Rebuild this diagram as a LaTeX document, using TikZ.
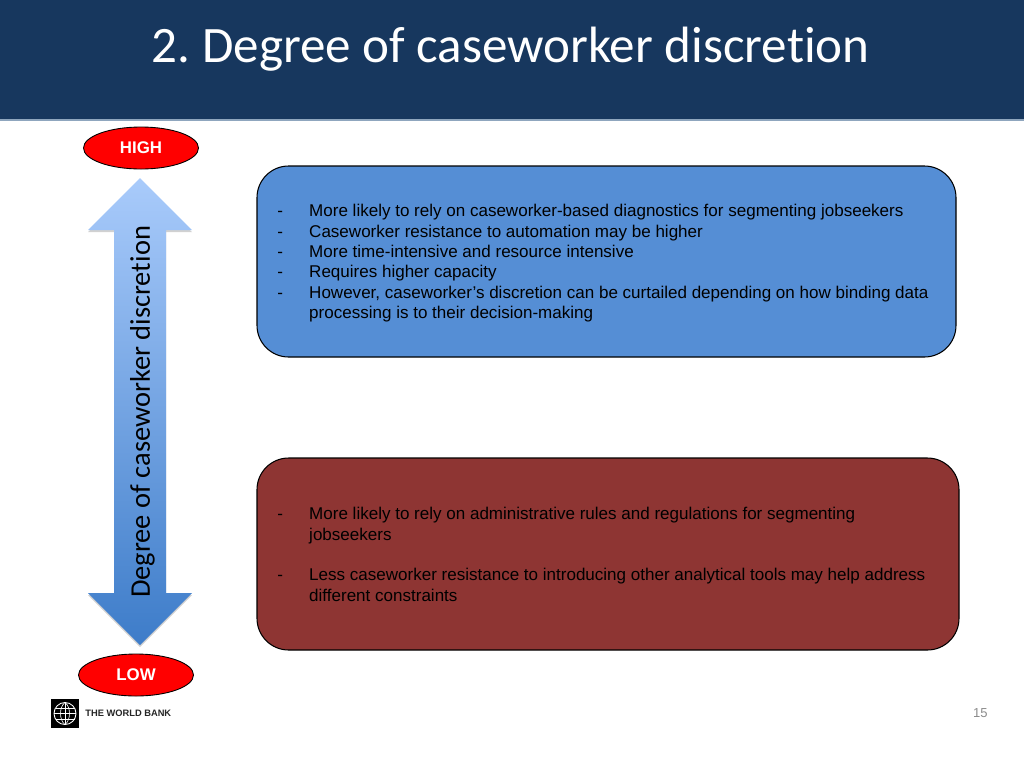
\documentclass[tikz,border=0pt]{standalone}
\usepackage{fontspec}
\setmainfont{Liberation Sans}
\newfontfamily\calfont[Ligatures=NoCommon,Contextuals=NoAlternate]{Carlito}
\definecolor{headbg}{HTML}{17375E}
\definecolor{headline}{HTML}{8FA6BE}
\definecolor{boxblue}{HTML}{558ED5}
\definecolor{boxred}{HTML}{8E3533}
\definecolor{arrowtop}{HTML}{A9CBFB}
\definecolor{arrowbot}{HTML}{3D7CC9}
\definecolor{pagegrey}{HTML}{8B8B8B}
\newcommand{\pxu}{cm*0.02}
\tikzset{
  pillnode/.style={ellipse,draw=black,line width=0.5pt,fill=red,inner sep=0pt,minimum width=115\pxu,minimum height=42\pxu,text=white,font=\fontsize{9.6}{12}\selectfont\bfseries},
  panelbox/.style={draw=black,line width=0.6pt,rounded corners=18pt},
  paneltext/.style={anchor=north west,align=left,inner sep=0pt,text=black,font=\fontsize{9.69}{11.62}\selectfont},
}
\newcommand{\dashitem}[1]{\makebox[18.14pt][l]{-}#1}
\newcommand{\contitem}[1]{\makebox[18.14pt][l]{}#1}
\usetikzlibrary{shapes.geometric}
\begin{document}
\begin{tikzpicture}[x=0.02cm,y=-0.02cm]
\useasboundingbox (0,0) rectangle (1024,768);
\fill[white] (0,0) rectangle (1024,768);
% header
\fill[headbg] (0,0) rectangle (1024,119);
\fill[headline] (0,119) rectangle (1024,120.5);
\node[anchor=base west,inner sep=0pt,text=white,font=\calfont\fontsize{29.07}{32}\selectfont] (title) at (151,62) {2.\kern-1.9pt{} Degree of caseworker discretion};
% arrow
\fill[black,opacity=0.18] (140,180) -- (192,232) -- (166,232) -- (166,595) -- (192,595) -- (140,647) -- (88,595) -- (114,595) -- (114,232) -- (88,232) -- cycle;
\shade[top color=arrowtop,bottom color=arrowbot,shading angle=0] (140,178) -- (192,230) -- (166,230) -- (166,593) -- (192,593) -- (140,645) -- (88,593) -- (114,593) -- (114,230) -- (88,230) -- cycle;
\node[rotate=90,inner sep=0pt,anchor=center,text=black,font=\calfont\fontsize{16.2}{18}\selectfont] (axislabel) at (142.5,412) {Degree of caseworker discretion};
% end labels
\node[pillnode] (high) at (141,148) {HIGH};
\node[pillnode] (low) at (136,675) {LOW};
% panels
\draw[panelbox,fill=boxblue] (257,166) rectangle (956,357);
\draw[panelbox,fill=boxred] (257,458) rectangle (959,650);
\node[paneltext] (bluetext) at (277,204) {%
\dashitem{More likely to rely on caseworker-based diagnostics for segmenting jobseekers}\\
\dashitem{Caseworker resistance to automation may be higher}\\
\dashitem{More time-intensive and resource intensive}\\
\dashitem{Requires higher capacity}\\
\dashitem{However, caseworker’s discretion can be curtailed depending on how binding data}\\
\contitem{processing is to their decision-making}};
\node[paneltext] (redtext) at (277,507) {%
\dashitem{More likely to rely on administrative rules and regulations for segmenting}\\
\contitem{jobseekers}\\
\mbox{}\\
\dashitem{Less caseworker resistance to introducing other analytical tools may help address}\\
\contitem{different constraints}};
% logo
\fill[black] (51,699) rectangle (79,728);
\begin{scope}[draw=white,line width=0.35pt]
\draw[line width=0.5pt] (65,713.5) circle (11);
\draw (65,702.5) -- (65,724.5);
\draw (65,702.5) .. controls (59,707) and (59,720) .. (65,724.5);
\draw (65,702.5) .. controls (71,707) and (71,720) .. (65,724.5);
\draw (54,713.5) -- (76,713.5);
\draw (55.5,708) -- (74.5,708);
\draw (55.5,719) -- (74.5,719);
\end{scope}
\node[anchor=west,inner sep=0pt,text=black!85,font=\fontsize{5.3}{6}\selectfont\bfseries] (bank) at (85,713.5) {THE WORLD BANK};
\node[anchor=base east,inner sep=0pt,text=pagegrey,font=\fontsize{7.4}{9}\selectfont] (page) at (988,717) {15};
\end{tikzpicture}
\end{document}
